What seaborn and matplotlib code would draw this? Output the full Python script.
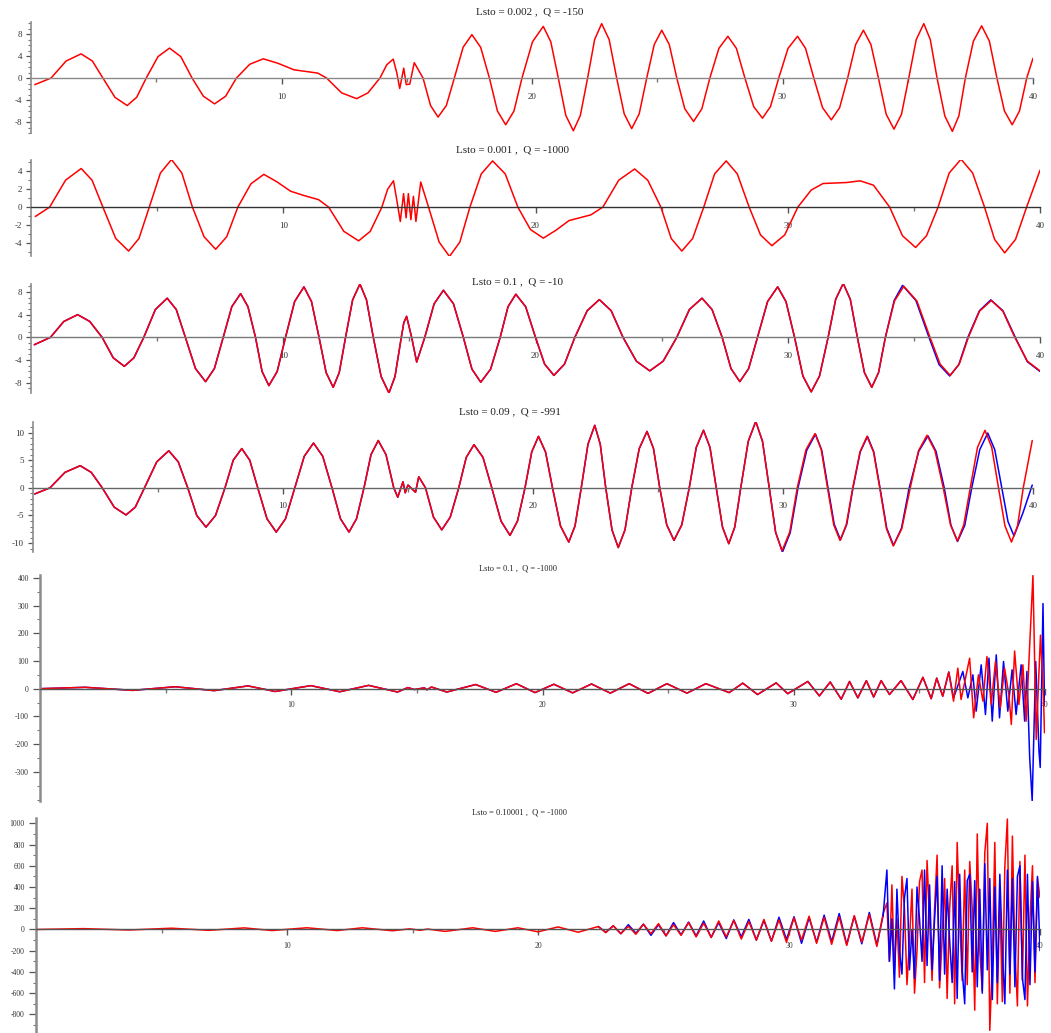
import numpy as np
import pandas as pd
import matplotlib
matplotlib.use('Agg')
import matplotlib.pyplot as plt
import seaborn as sns
from matplotlib.ticker import MultipleLocator, FixedLocator

# ---------------- data ((x, y)) ----------------
titles = ["Lsto = 0.002 ,  Q = -150", "Lsto = 0.001 ,  Q = -1000", "Lsto = 0.1 ,  Q = -10",
          "Lsto = 0.09 ,  Q = -991", "Lsto = 0.1 ,  Q = -1000", "Lsto = 0.10001 ,  Q = -1000"]

p1_red = [(0.15,-1.2),(0.8,0),(1.4,3.1),(2.0,4.4),(2.45,3.1),(2.87,0),(3.35,-3.5),(3.84,-5.0),(4.22,-3.5),
          (4.6,0),(5.07,3.9),(5.53,5.45),(5.98,3.9),(6.43,0),(6.88,-3.3),(7.33,-4.7),(7.77,-3.3),(8.2,0),
          (8.73,2.5),(9.27,3.5),(9.85,2.7),(10.5,1.5),(11.45,0.9),(11.8,0),(12.4,-2.7),(13.0,-3.75),
          (13.45,-2.7),(13.93,0),(14.2,2.4),(14.46,3.45),(14.6,1.0),(14.72,-1.9),(14.88,1.8),(14.98,-1.2),
          (15.12,-1.1),(15.3,2.8),(15.65,0),(15.95,-5.0),(16.25,-7.1),(16.58,-5.0),(16.9,0),(17.25,5.6),
          (17.6,7.9),(17.95,5.6),(18.3,0),(18.62,-6.0),(18.95,-8.5),(19.28,-6.0),(19.6,0),(20.02,6.6),
          (20.45,9.4),(20.75,6.6),(21.05,0),(21.35,-6.8),(21.65,-9.6),(21.93,-6.8),(22.22,0),(22.5,7.0),
          (22.78,9.9),(23.08,7.0),(23.38,0),(23.68,-6.5),(23.98,-9.2),(24.28,-6.5),(24.58,0),(24.88,6.1),
          (25.18,8.7),(25.48,6.1),(25.78,0),(26.1,-5.6),(26.45,-7.9),(26.78,-5.6),(27.1,0),(27.46,5.4),
          (27.82,7.6),(28.16,5.4),(28.5,0),(28.85,-5.2),(29.2,-7.3),(29.52,-5.2),(29.85,0),(30.22,5.4),
          (30.6,7.6),(30.92,5.4),(31.25,0),(31.6,-5.4),(31.95,-7.6),(32.28,-5.4),(32.6,0),(32.92,6.1),
          (33.23,8.7),(33.53,6.1),(33.83,0),(34.14,-6.6),(34.45,-9.3),(34.75,-6.6),(35.04,0),(35.34,7.0),
          (35.64,9.9),(35.9,7.0),(36.17,0),(36.48,-6.9),(36.78,-9.7),(37.04,-6.9),(37.3,0),(37.62,6.7),
          (37.95,9.5),(38.26,6.7),(38.56,0),(38.86,-6.0),(39.17,-8.5),(39.46,-6.0),(39.75,0),(40.0,3.6)]

p2_red = [(0.17,-1.05),(0.74,0),(1.37,3.0),(1.99,4.3),(2.42,3.0),(2.85,0),(3.36,-3.5),(3.87,-4.9),(4.28,-3.5),
          (4.69,0),(5.13,3.8),(5.57,5.3),(5.98,3.8),(6.4,0),(6.86,-3.3),(7.32,-4.7),(7.76,-3.3),(8.2,0),
          (8.72,2.6),(9.23,3.65),(9.76,2.8),(10.29,1.77),(10.81,1.3),(11.4,0.83),(11.8,0),(12.4,-2.7),
          (12.99,-3.76),(13.45,-2.7),(13.91,0),(14.14,2.0),(14.37,2.93),(14.5,0.8),(14.64,-1.6),(14.77,1.5),
          (14.87,-1.2),(14.96,1.5),(15.06,-1.4),(15.16,1.2),(15.26,-1.6),(15.45,2.8),(15.76,0),(16.18,-3.9),
          (16.59,-5.5),(17.0,-3.9),(17.4,0),(17.85,3.7),(18.3,5.15),(18.8,3.7),(19.3,0),(19.8,-2.5),
          (20.31,-3.46),(20.8,-2.6),(21.33,-1.5),(22.2,-0.86),(22.67,0),(23.3,3.0),(23.93,4.25),(24.45,3.0),
          (24.97,0),(25.38,-3.5),(25.8,-4.9),(26.23,-3.5),(26.67,0),(27.1,3.7),(27.56,5.15),(28.0,3.7),
          (28.47,0),(28.92,-3.1),(29.37,-4.3),(29.88,-3.1),(30.4,0),(30.93,1.9),(31.4,2.63),(32.33,2.74),
          (32.87,2.93),(33.4,2.44),(34.04,0),(34.55,-3.2),(35.07,-4.5),(35.5,-3.2),(35.96,0),(36.4,3.8),
          (36.87,5.34),(37.33,3.8),(37.8,0),(38.2,-3.6),(38.6,-5.1),(39.03,-3.6),(39.47,0),(40.0,4.1)]

p3_red = [(0.13,-1.3),(0.77,0),(1.3,2.8),(1.85,4.0),(2.33,2.8),(2.82,0),(3.26,-3.6),(3.7,-5.1),(4.08,-3.6),
          (4.47,0),(4.93,4.9),(5.4,6.9),(5.76,4.9),(6.12,0),(6.52,-5.5),(6.92,-7.8),(7.27,-5.5),(7.62,0),
          (7.96,5.4),(8.31,7.7),(8.6,5.4),(8.9,0),(9.16,-6.0),(9.43,-8.5),(9.76,-6.0),(10.09,0),(10.45,6.3),
          (10.82,8.9),(11.12,6.3),(11.42,0),(11.7,-6.2),(11.98,-8.8),(12.22,-6.2),(12.47,0),(12.75,6.6),
          (13.04,9.4),(13.3,6.6),(13.57,0),(13.88,-6.9),(14.19,-9.8),(14.43,-6.9),(14.68,0),(14.78,2.6),
          (14.89,3.7),(15.09,0),(15.29,-4.35),(15.61,0),(15.98,5.9),(16.35,8.3),(16.75,5.9),(17.14,0),
          (17.48,-5.6),(17.83,-7.9),(18.22,-5.6),(18.6,0),(18.91,5.4),(19.22,7.6),(19.61,5.4),(20.0,0),
          (20.36,-4.7),(20.73,-6.7),(21.15,-4.7),(21.56,0),(22.05,4.7),(22.53,6.65),(23.0,4.7),(23.47,0),
          (24.0,-4.2),(24.53,-5.9),(25.06,-4.2),(25.6,0),(26.1,4.9),(26.6,6.9),(27.0,4.9),(27.4,0),
          (27.75,-5.5),(28.1,-7.8),(28.45,-5.5),(28.8,0),(29.2,6.3),(29.6,8.9),(29.93,6.3),(30.27,0),
          (30.6,-6.8),(30.93,-9.6),(31.26,-6.8),(31.6,0),(31.9,6.7),(32.2,9.5),(32.48,6.7),(32.76,0),
          (33.04,-6.2),(33.33,-8.8),(33.6,-6.2),(33.87,0),(34.23,6.4),(34.6,9.0),(35.12,6.4),(35.64,0),
          (36.04,-4.7),(36.44,-6.7),(36.8,-4.7),(37.16,0),(37.6,4.6),(38.07,6.5),(38.53,4.6),(39.0,0),
          (39.5,-4.2),(40.0,-5.9)]
p3_blue_tail = [(34.22,6.5),(34.55,9.15),(35.08,6.5),(35.6,0),(36.0,-4.8),(36.42,-6.8),(36.78,-4.8),
                (37.14,0),(37.6,4.7),(38.05,6.6),(38.53,4.7),(39.02,0),(39.5,-4.3),(40.0,-6.0)]

p4_red = [(0.07,-1.1),(0.68,0),(1.28,2.8),(1.89,4.0),(2.33,2.8),(2.77,0),(3.25,-3.5),(3.72,-4.9),(4.09,-3.5),
          (4.46,0),(4.95,4.7),(5.43,6.7),(5.81,4.7),(6.19,0),(6.55,-5.0),(6.92,-7.1),(7.3,-5.0),(7.68,0),
          (8.01,5.0),(8.35,7.1),(8.67,5.0),(8.99,0),(9.36,-5.6),(9.73,-8.0),(10.1,-5.6),(10.47,0),(10.85,5.7),
          (11.22,8.1),(11.59,5.7),(11.96,0),(12.3,-5.6),(12.64,-8.0),(12.94,-5.6),(13.24,0),(13.52,6.0),
          (13.81,8.55),(14.12,6.0),(14.43,0),(14.59,-1.7),(14.8,1.1),(14.89,-0.9),(15.0,0.5),(15.14,-0.1),
          (15.3,-0.8),(15.43,2.0),(15.7,0),(16.02,-5.3),(16.35,-7.6),(16.69,-5.3),(17.03,0),(17.33,5.5),
          (17.64,7.8),(18.0,5.5),(18.35,0),(18.72,-6.0),(19.08,-8.6),(19.38,-6.0),(19.68,0),(19.95,6.5),
          (20.22,9.3),(20.5,6.5),(20.78,0),(21.1,-6.9),(21.43,-9.8),(21.68,-6.9),(21.93,0),(22.2,7.9),
          (22.47,11.3),(22.69,7.9),(22.91,0),(23.16,-7.6),(23.41,-10.8),(23.68,-7.6),(23.95,0),(24.25,7.1),
          (24.56,10.2),(24.82,7.1),(25.07,0),(25.35,-6.7),(25.64,-9.5),(25.95,-6.7),(26.25,0),(26.53,7.3),
          (26.82,10.4),(27.08,7.3),(27.33,0),(27.58,-7.1),(27.83,-10.1),(28.07,-7.1),(28.31,0),(28.61,8.4),
          (28.91,12.0),(29.18,8.4),(29.45,0),(29.7,-8.0),(29.96,-11.4),(30.27,-8.0),(30.57,0),(30.92,6.9),
          (31.28,9.8),(31.53,6.9),(31.78,0),(32.03,-6.7),(32.28,-9.5),(32.53,-6.7),(32.79,0),(33.08,6.5),
          (33.36,9.3),(33.62,6.5),(33.87,0),(34.14,-7.4),(34.41,-10.5),(34.75,-7.4),(35.09,0),(35.42,6.7),
          (35.76,9.5),(36.08,6.7),(36.41,0),(36.7,-6.7),(36.98,-9.6),(37.23,-6.7),(37.49,0),(37.78,7.3),
          (38.08,10.4),(38.35,7.3),(38.62,0),(38.88,-6.9),(39.14,-9.8),(39.38,-6.9),(39.61,0),(39.97,8.55)]
p4_blue_tail = [(29.71,-8.1),(29.98,-11.6),(30.29,-8.1),(30.6,0),(30.95,6.8),(31.3,9.7),(31.55,6.8),(31.8,0),
                (32.05,-6.6),(32.3,-9.4),(32.55,-6.6),(32.8,0),(33.09,6.5),(33.38,9.3),(33.63,6.5),(33.88,0),
                (34.15,-7.3),(34.42,-10.4),(34.74,-7.3),(35.05,0),(35.43,6.6),(35.8,9.4),(36.12,6.6),(36.45,0),
                (36.72,-6.8),(36.98,-9.7),(37.27,-6.8),(37.55,0),(37.87,6.9),(38.19,9.9),(38.47,6.9),(38.75,0),
                (39.0,-6.1),(39.24,-8.7),(39.6,-4.5),(39.97,0.5)]

p5_common = [(0.0,0),(1.8,5),(3.69,-6),(5.38,7),(6.93,-7),(8.28,10),(9.36,-10),(10.78,11),(11.93,-11),
             (13.08,12),(14.23,-12),(14.64,4),(14.9,-3),(15.3,3),(15.4,-4),(15.58,6),(16.19,-12),(17.34,15),
             (18.15,-13),(18.96,18),(19.7,-14),(20.45,16),(21.2,-15),(21.95,17),(22.7,-16),(23.45,18),
             (24.2,-17),(24.95,18),(25.75,-16),(26.5,18),(27.43,-14),(27.97,20),(28.56,-21),(29.3,21),
             (29.76,-18),(30.56,26),(31.02,-26),(31.45,24),(31.89,-38),(32.22,26),(32.55,-33),(32.89,29),
             (33.18,-30),(33.48,29),(33.81,-21),(34.27,29),(34.74,-39),(35.14,41),(35.47,-36),(35.69,38),
             (35.93,-27),(36.17,60)]
p5_red_tail = [(36.36,-45),(36.53,74),(36.66,-39),(37.0,110),(37.16,-105),(37.35,50),(37.53,-45),(37.69,116),
               (37.86,-57),(38.03,98),(38.22,-69),(38.39,74),(38.56,-21),(38.66,-129),(38.79,136),(38.96,-57),
               (39.12,86),(39.25,-117),(39.52,408),(39.65,-183),(39.82,193),(39.94,-33),(39.98,-159)]
p5_blue_tail = [(36.36,-33),(36.73,62),(36.93,-33),(37.13,50),(37.26,-81),(37.46,86),(37.63,-93),(37.77,110),
                (37.9,-117),(38.06,122),(38.19,-105),(38.35,98),(38.52,-81),(38.69,68),(38.85,-93),(39.05,86),
                (39.19,-117),(39.28,62),(39.39,-248),(39.49,-404),(39.63,98),(39.76,-224),(39.81,-284),
                (39.92,307),(39.98,-57)]

p6_common = [(0.0,0),(1.9,8),(3.7,-5),(5.4,12),(6.9,-8),(8.3,15),(9.4,-10),(10.8,16),(12.0,-10),(13.0,16),
             (14.2,-12),(14.9,6),(15.3,-8),(15.6,4),(16.3,-18),(17.4,16),(18.3,-18),(19.2,16),(20.0,-22),
             (20.8,24),(21.6,-26),(22.4,28)]
p6_red_tail = [(22.7,-30),(23.0,35),(23.3,-40),(23.6,30),(23.9,-45),(24.2,50),(24.5,-40),(24.8,55),(25.1,-60),
               (25.4,45),(25.7,-55),(26.0,65),(26.3,-70),(26.6,60),(26.9,-75),(27.2,80),(27.5,-70),(27.8,85),
               (28.1,-90),(28.4,75),(28.7,-100),(29.0,95),(29.3,-110),(29.6,90),(29.9,-120),(30.2,110),
               (30.5,-100),(30.8,125),(31.1,-130),(31.4,115),(31.7,-140),(32.0,120),(32.3,-150),(32.6,130),
               (32.9,-120),(33.2,140),(33.5,-160),(33.75,150),
               (33.9,250),(34.0,-300),(34.1,420),(34.2,-380),(34.3,100),(34.4,-450),(34.5,500),(34.6,200),
               (34.7,-520),(34.8,-100),(34.9,380),(35.0,-600),(35.1,-200),(35.2,450),(35.3,560),(35.4,-500),
               (35.5,650),(35.6,100),(35.7,-480),(35.8,200),(35.9,700),(36.0,-550),(36.1,-100),(36.2,480),
               (36.3,-650),(36.4,200),(36.5,600),(36.6,-700),(36.7,820),(36.8,100),(36.9,-480),(37.0,560),
               (37.1,-520),(37.2,640),(37.3,200),(37.4,-760),(37.5,900),(37.6,-200),(37.7,-580),(37.8,720),
               (37.9,1000),(38.0,-950),(38.1,-300),(38.2,820),(38.3,-700),(38.4,300),(38.5,-680),(38.6,600),
               (38.7,1040),(38.8,-600),(38.9,880),(39.0,-200),(39.1,-720),(39.2,640),(39.3,-480),(39.4,700),
               (39.5,-720),(39.6,100),(39.7,600),(39.8,-500),(39.9,480),(40.0,300)]
p6_blue_mid = [(22.4,28),(22.7,-25),(23.0,35),(23.3,-40),(23.6,45),(23.9,-35),(24.2,50),(24.5,-55),(24.8,45),
               (25.1,-60),(25.4,65),(25.7,-50),(26.0,70),(26.3,-60),(26.6,80),(26.9,-75),(27.2,65),(27.5,-85),
               (27.8,90),(28.1,-70),(28.4,95),(28.7,-100),(29.0,85),(29.3,-110),(29.6,115),(29.9,-95),(30.2,120),
               (30.5,-130),(30.8,110),(31.1,-120),(31.4,135),(31.7,-115),(32.0,150),(32.3,-140),(32.6,125),
               (32.9,-135),(33.2,160),(33.5,-145),(33.75,130)]
p6_blue_end = [(33.75,130),
               (33.9,560),(34.0,-300),(34.1,100),(34.2,-560),(34.3,380),(34.4,-200),(34.5,-420),(34.6,300),
               (34.7,480),(34.8,-380),(34.9,0),(35.0,-460),(35.1,400),(35.2,100),(35.3,-300),(35.4,560),
               (35.5,-340),(35.6,420),(35.7,-380),(35.8,100),(35.9,500),(36.0,-480),(36.1,600),(36.2,-420),
               (36.3,380),(36.4,-100),(36.5,-500),(36.6,450),(36.7,-650),(36.8,520),(36.9,-380),(37.0,-700),
               (37.1,460),(37.2,520),(37.3,-400),(37.4,460),(37.5,-540),(37.6,380),(37.7,-600),(37.8,620),
               (37.9,-380),(38.0,480),(38.1,-660),(38.2,400),(38.3,-500),(38.4,520),(38.5,-200),(38.6,-700),
               (38.7,560),(38.8,-420),(38.9,480),(39.0,-540),(39.1,500),(39.2,600),(39.3,-460),(39.4,-660),
               (39.5,520),(39.6,-520),(39.7,450),(39.8,-400),(39.9,500),(40.0,-200)]

x_major = [10, 20, 30, 40]
x_minor = [5, 15, 25, 35]

# ---------------- build series: (blue under, red, blue over) ----------------
def frame(points):
    return pd.DataFrame(points, columns=["x", "y"])

n3 = [p[0] for p in p3_red].index(33.87) + 1
n4 = [p[0] for p in p4_red].index(29.45) + 1
series = [
    (None, frame(p1_red), None),
    (None, frame(p2_red), None),
    (frame(p3_red[:n3] + p3_blue_tail), frame(p3_red), None),
    (frame(p4_red[:n4] + p4_blue_tail), frame(p4_red), None),
    (frame(p5_common + p5_blue_tail), frame(p5_common + p5_red_tail), None),
    (frame(p6_blue_mid), frame(p6_common + p6_red_tail), frame(p6_blue_end)),
]

# ---------------- styling ----------------
sns.set_style("white")
plt.rcParams['font.family'] = ['Liberation Serif', 'DejaVu Serif']
plt.rcParams['axes.unicode_minus'] = False

W, H = 1051, 1033
fig = plt.figure(figsize=(W / 100, H / 100), dpi=100)

# left, right, top, bottom (px), ylim, major yticks, minor step, label size, zero colour,
# title (x, y, size), x label pad
specs = [
    (31, 1033, 22, 133, (-10.0, 10.2), [-8, -4, 0, 4, 8], 1, 6.5, "#8a8a8a", (530, 12, 8), 7),
    (31, 1040, 160, 256, (-5.45, 5.25), [-4, -2, 0, 2, 4], 1, 6.5, "#333333", (512, 150, 8), 6.5),
    (31, 1040, 284, 393, (-9.8, 9.4), [-8, -4, 0, 4, 8], 1, 6.5, "#7a7a7a", (517, 282, 8), 6.5),
    (33, 1033, 422, 552, (-11.6, 11.9), [-10, -5, 0, 5, 10], 1, 6.5, "#666666", (510, 412, 8), 6.5),
    (40, 1045, 575, 801, (-405, 410), [-300, -200, -100, 0, 100, 200, 300, 400], 50, 5.5, "#555555", (518, 568, 6), 5),
    (36, 1040, 818, 1033, (-975, 1050), [-800, -600, -400, -200, 0, 200, 400, 600, 800, 1000], 100, 5.5, "#555555", (520, 812, 6), 5),
]

for (blue_under, red, blue_over), title, sp in zip(series, titles, specs):
    left, right, top, bottom, ylim, yt, ystep, fs, zc, (tx, ty, tsz), xpad = sp
    ax = fig.add_axes([left / W, 1 - bottom / H, (right - left) / W, (bottom - top) / H])
    ax.set_facecolor("none")
    for col, df in [("#0000ff", blue_under), ("#ff0000", red), ("#0000ff", blue_over)]:
        if df is None:
            continue
        sns.lineplot(data=df, x="x", y="y", ax=ax, color=col, linewidth=1.1,
                     estimator=None, sort=False)
    for ln in ax.lines:
        ln.set_solid_joinstyle("round")
    ax.set_xlim(0, 40)
    ax.set_ylim(*ylim)
    ax.set_xlabel("")
    ax.set_ylabel("")
    for s in ("top", "right"):
        ax.spines[s].set_visible(False)
    ax.spines["bottom"].set_position(("data", 0))
    ax.spines["bottom"].set_color(zc)
    ax.spines["bottom"].set_linewidth(1.0)
    ax.spines["left"].set_color("#8c8c8c")
    ax.spines["left"].set_linewidth(1.2 if ystep < 10 else 1.8)
    ax.xaxis.set_major_locator(FixedLocator(x_major))
    ax.xaxis.set_minor_locator(FixedLocator(x_minor))
    ax.set_xticklabels([str(v) for v in x_major])
    ax.yaxis.set_major_locator(FixedLocator(yt))
    ax.yaxis.set_minor_locator(MultipleLocator(ystep))
    ax.set_yticklabels([str(v) for v in yt])
    ax.tick_params(axis="x", which="both", bottom=True)
    ax.tick_params(axis="y", which="both", left=True)
    ax.tick_params(axis="x", which="major", direction="out", length=4, width=1.0,
                   color="#555555", labelsize=fs, labelcolor="#333333", pad=xpad)
    ax.tick_params(axis="x", which="minor", direction="out", length=3, width=1.0, color="#777777")
    ax.tick_params(axis="y", which="major", direction="out", length=3.5 if ystep < 10 else 5,
                   width=0.9, color="#555555", labelsize=fs, labelcolor="#333333", pad=3)
    ax.tick_params(axis="y", which="minor", direction="out", length=2.5, width=0.8, color="#777777")
    ax.grid(False)
    fig.text(tx / W, 1 - ty / H, title, ha="center", va="center", fontsize=tsz, color="#222222")

fig.savefig("out.png", dpi=100)
